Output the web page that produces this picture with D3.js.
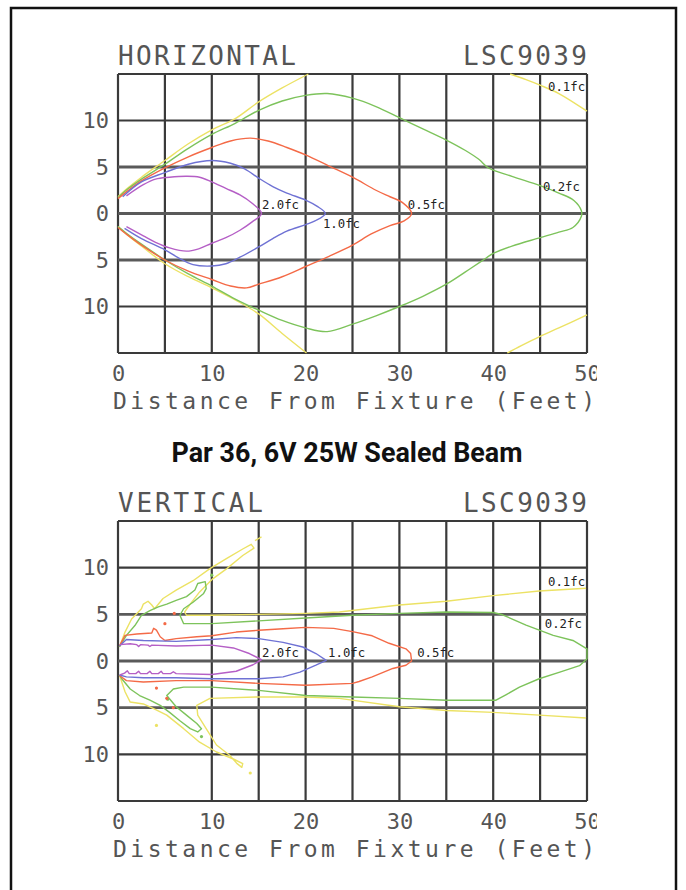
<!DOCTYPE html>
<html>
<head>
<meta charset="utf-8">
<script src="https://cdn.jsdelivr.net/npm/d3@7"></script>
<style>
  body { margin: 0; background: #fff; }
</style>
</head>
<body>
<svg id="chart" width="686" height="890"></svg>
<script>
// ---- data (all values in feet) ----
const xTicks = [0, 10, 20, 30, 40, 50];
const yTicks = [10, 5, 0, -5, -10];
const gridY = [-15, -10, -5, 0, 5, 10, 15];
const horGridX = [0, 5, 10, 15, 20, 25, 30, 35, 40, 45, 50];
const verGridX = [0, 10, 15, 20, 25, 30, 35, 40, 45, 50];

const levels = ['0.1fc', '0.2fc', '0.5fc', '1.0fc', '2.0fc'];

// HORIZONTAL isolux lines
const horYellowA = [[0,1.8],[1,2.7],[2.5,3.9],[5,5.7],[7.5,7.5],[10,9.0],[12.5,10.2],[15,12.0],[17.5,13.5],[20.3,15]];
const horYellowB = [[41.8,15],[43.5,14.4],[45,13.8],[47,12.9],[50,11.0]];
const horYellowC = [[41.5,-15],[43,-14.2],[45,-13.2],[47,-12.3],[50,-10.9]];
const horYellowD = [[0,-1.4],[1,-2.3],[2.5,-3.5],[5,-5.4],[7.5,-6.8],[10,-8.0],[12.5,-9.3],[15,-10.8],[17.5,-12.9],[20.1,-15]];
const horGreen = [[0,1.7],[1,2.6],[2.5,3.7],[5,5.3],[7.5,7.0],[10,8.5],[12.5,9.7],[15,11.1],[17.5,12.1],[20,12.7],[22.3,12.9],[25,12.4],[27.5,11.5],[30,10.3],[32.5,9.1],[35,7.9],[37,6.8],[38.5,5.8],[39.5,4.9],[42,4.0],[45,3.0],[47,2.2],[48.6,1.4],[49.4,0.3],[49.4,-0.3],[48.5,-1.5],[47,-2.0],[45,-2.6],[42,-3.5],[40,-4.3],[38.8,-5.1],[37,-6.3],[35,-7.6],[32.5,-8.9],[30,-10.0],[27.5,-11.0],[25,-11.9],[22.3,-12.7],[20,-12.3],[17.5,-11.5],[15,-10.4],[12.5,-9.2],[10,-7.8],[7.5,-6.5],[5,-5.0],[2.5,-3.3],[1,-2.2],[0,-1.4]];
const horRed = [[0,1.6],[1,2.4],[2.5,3.5],[5,4.9],[7.5,6.1],[10,7.1],[12,7.8],[14.1,8.1],[16,7.8],[18,7.1],[20,6.3],[22.5,5.1],[25,3.9],[27.5,2.5],[29,1.8],[30.3,1.2],[31.3,0],[30.5,-0.8],[29,-1.3],[27,-2.2],[25,-3.4],[22.5,-4.6],[20,-5.7],[17.5,-6.8],[15,-7.6],[13.7,-8.0],[12,-7.8],[10,-7.1],[7.5,-6.2],[5,-5.0],[2.5,-3.4],[1,-2.3],[0,-1.5]];
const horBlue = [[0.5,1.8],[2.5,3.4],[5,4.4],[7.5,5.3],[10,5.7],[12,5.4],[13.5,4.8],[15,3.8],[16.5,2.9],[18,2.2],[20,1.45],[21.2,0.8],[22.1,0],[21,-0.8],[20,-1.2],[18,-1.9],[16.5,-2.7],[15,-3.6],[13,-4.7],[11.5,-5.4],[10,-5.65],[8,-5.5],[6.5,-4.8],[5,-3.9],[2.5,-2.7],[0.7,-1.6]];
const horPurple = [[0.9,1.9],[2.7,3.1],[4,3.7],[5.5,3.9],[7.3,4.0],[8.7,3.9],[10,3.4],[11.5,2.7],[13,2.0],[14.3,1.1],[15.3,0],[14.3,-0.9],[13,-1.8],[11.5,-2.6],[10,-3.2],[8.6,-3.8],[7.3,-4.05],[5.5,-3.7],[4,-3.1],[2.7,-2.4],[0.9,-1.4]];
const horLabelText = ['2.0fc', '1.0fc', '0.5fc', '0.2fc', '0.1fc'];
const horLabelX = [15.35, 21.85, 30.9, 45.3, 45.85];
const horLabelY = [0.48, -1.56, 0.48, 2.4, 13.2];

// VERTICAL isolux lines
const verYellowA = [[0.15,1.5],[0.75,3.1],[1.45,4.5],[2.5,5.6],[2.7,6.1],[3.2,6.4],[3.6,6.0],[3.9,5.6],[4.8,6.7],[6.2,7.6],[8.0,8.6],[9.8,9.9],[11.6,11.0],[13.3,12.0],[14.2,12.5],[14.5,12.1],[13.3,11.3],[11.6,9.9],[10.1,8.8],[8.7,7.4],[7.7,6.1],[7.1,5.25],[7.3,4.9],[10,4.9],[15,5.0],[20,5.1],[23.6,5.25],[30,6.0],[35,6.4],[40,7.0],[44.9,7.5],[49.9,7.8]];
const verYellowB = [[14.6,12.9],[15.3,13.3]];
const verYellowC = [[0.15,-1.5],[0.75,-3.3],[1.3,-4.4],[2.7,-4.6],[3.8,-5.1],[5.2,-5.8],[7,-7.25],[8.7,-8.7],[10.5,-9.75],[12.3,-10.5],[13.3,-11.0],[13.2,-11.4],[12.7,-11.0],[11.9,-10.1],[10.5,-9.0],[9.4,-7.25],[8.5,-5.8],[8.4,-4.75],[9.8,-4.0],[15,-3.85],[20,-3.85],[23.6,-4.0],[30,-4.9],[35,-5.3],[40,-5.5],[44.9,-5.8],[49.9,-6.1]];
const verGreen = [[0.15,1.5],[0.9,2.75],[1.8,3.8],[2.5,4.9],[3.4,5.4],[4.3,5.8],[5.2,6.1],[6.2,6.5],[7.3,6.9],[8.2,7.6],[8.5,8.3],[9.3,8.5],[9.4,7.75],[9.1,7.2],[8.0,6.3],[7.0,5.6],[6.6,4.9],[7.0,4.0],[10,4.0],[15,4.3],[20,4.6],[25,4.9],[30,5.1],[35,5.25],[40,5.2],[41,4.95],[43.5,3.85],[46.4,2.75],[48.5,2.2],[50,1.3],[50,0.25],[49.2,-0.5],[47.1,-1.2],[44.9,-1.9],[42.8,-2.8],[41.4,-3.6],[40.3,-4.2],[37.8,-4.2],[35,-4.2],[30,-4.0],[25,-3.85],[20,-3.7],[15,-3.15],[10,-2.8],[7,-2.8],[5.9,-3.0],[5.2,-3.7],[6.2,-4.9],[7.3,-5.8],[8.4,-6.7],[8.9,-7.25],[8.5,-7.6],[7.7,-7.25],[6.6,-6.4],[5.5,-5.5],[4.5,-4.75],[3.4,-4.2],[2.3,-3.7],[1.3,-3.0],[0.4,-1.9],[0.15,-1.5]];
const verRed = [[0.15,1.6],[0.75,2.75],[2,2.9],[3.6,3.0],[3.8,3.5],[4.1,3.3],[4.5,2.6],[5,2.2],[6.2,2.4],[8.4,2.6],[10,2.7],[12.6,3.1],[15,3.3],[17.6,3.45],[20,3.6],[23,3.5],[25,3.15],[27.1,2.7],[28.9,1.9],[30.7,1.3],[31.2,0.8],[31.3,0],[30.7,-0.45],[29.3,-0.8],[27.1,-1.7],[25.7,-2.2],[25,-2.4],[20,-2.6],[15,-2.4],[10,-2.1],[6.2,-2.1],[2.7,-2.25],[0.9,-2.1],[0.15,-1.55]];
const verBlue = [[0.15,1.6],[0.9,2.3],[2.7,2.2],[6.2,2.1],[10,2.3],[12.6,2.5],[15,2.4],[17.6,2.0],[19.7,1.5],[21.1,0.8],[22.2,0.07],[21.1,-0.45],[19.4,-1.2],[17.6,-1.7],[15,-1.9],[10,-1.9],[6.2,-1.8],[2.7,-1.8],[0.9,-1.7],[0.15,-1.5]];
const verPurple = [[0.2,1.75],[1.3,1.85],[2.0,1.75],[2.2,1.55],[2.4,1.75],[3.2,1.7],[3.4,1.55],[3.6,1.7],[6.2,1.6],[10,1.7],[12.3,1.4],[14,0.8],[15.3,0.15],[14.4,-0.4],[12.6,-1.1],[10,-1.45],[6.2,-1.35],[5.9,-1.15],[5.6,-1.35],[4.8,-1.35],[4.6,-1.1],[4.3,-1.35],[3.6,-1.35],[3.4,-1.1],[3.1,-1.35],[2.4,-1.35],[2.2,-1.1],[1.9,-1.35],[1.2,-1.35],[1.0,-1.05],[0.7,-1.3],[0.2,-1.5]];
const verYellowSpecks = [[14.1,-12],[4.1,-6.9]];
const verGreenSpecks = [[8.9,-8.1],[10,9.2],[5.3,-4.1]];
const verRedSpecks = [[4.1,-2.9],[5.2,-4.0],[5.9,-5.0],[5.0,4.0],[6.0,5.1]];
const verLabelText = ['2.0fc', '1.0fc', '0.5fc', '0.2fc', '0.1fc'];
const verLabelX = [15.35, 22.4, 31.9, 45.5, 45.85];
const verLabelY = [0.43, 0.43, 0.43, 3.5, 8.0];

// ---- drawing ----
const color = d3.scaleOrdinal(levels, ['#ece264', '#7dc35b', '#f46a47', '#6f72d4', '#b55fc6']);
const plotFont = "'DejaVu Sans Mono', 'Liberation Mono', monospace";
const svg = d3.select('#chart');

svg.append('rect')
    .attr('x', 11).attr('y', 8)
    .attr('width', 665).attr('height', 900)
    .attr('fill', 'none')
    .attr('stroke', '#111')
    .attr('stroke-width', 2.5);

svg.append('defs').append('clipPath').attr('id', 'tickClip')
    .append('rect').attr('x', 0).attr('y', 0).attr('width', 597).attr('height', 890);

const x = d3.scaleLinear().domain([0, 50]).range([118, 587]);

function drawPanel(top, bottom, title, titleWidth, gridX, curveType, curves, specks, labelText, labelX, labelY) {
    const y = d3.scaleLinear().domain([-15, 15]).range([bottom, top]);
    const g = svg.append('g');

    // grid
    g.selectAll('.vgrid').data(gridX).enter().append('line')
        .attr('x1', d => x(d)).attr('x2', d => x(d))
        .attr('y1', y(-15)).attr('y2', y(15))
        .attr('stroke', '#3a3a3a').attr('stroke-width', 2.2);
    g.selectAll('.hgrid').data(gridY).enter().append('line')
        .attr('x1', x(0)).attr('x2', x(50))
        .attr('y1', d => y(d)).attr('y2', d => y(d))
        .attr('stroke', d => (d === 0 || Math.abs(d) === 5) ? '#5a5a5a' : '#3a3a3a')
        .attr('stroke-width', d => (d === 0 || Math.abs(d) === 5) ? 2.8 : 2.2);

    // contour lines
    const line = d3.line()
        .x(d => x(d[0]))
        .y(d => y(d[1]))
        .curve(curveType);
    curves.forEach(function (c) {
        g.append('path')
            .datum(c.pts)
            .attr('fill', 'none')
            .attr('stroke', color(c.level))
            .attr('stroke-width', 1.4)
            .attr('stroke-linejoin', 'round')
            .attr('d', line);
    });
    specks.forEach(function (s) {
        g.selectAll(null).data(s.pts).enter().append('circle')
            .attr('cx', d => x(d[0])).attr('cy', d => y(d[1]))
            .attr('r', 1.6)
            .attr('fill', color(s.level));
    });

    // contour labels
    labelText.forEach(function (t, i) {
        g.append('text')
            .attr('x', x(labelX[i])).attr('y', y(labelY[i]))
            .attr('font-family', plotFont)
            .attr('font-size', 12)
            .attr('fill', '#222')
            .attr('textLength', 37)
            .attr('lengthAdjust', 'spacingAndGlyphs')
            .text(t);
    });

    // axes
    const xAxis = g.append('g')
        .attr('transform', 'translate(0,' + bottom + ')')
        .attr('clip-path', 'url(#tickClip)')
        .call(d3.axisBottom(x).tickValues(xTicks).tickSize(0).tickPadding(12));
    const yAxis = g.append('g')
        .attr('transform', 'translate(' + x(0) + ',0)')
        .call(d3.axisLeft(y).tickValues(yTicks).tickSize(0).tickPadding(9).tickFormat(d => Math.abs(d)));
    [xAxis, yAxis].forEach(function (a) {
        a.select('.domain').remove();
        a.selectAll('text')
            .attr('font-family', plotFont)
            .attr('font-size', 22)
            .attr('fill', '#555');
    });

    // titles
    g.append('text')
        .attr('x', x(0)).attr('y', top - 9)
        .attr('font-family', plotFont).attr('font-size', 26).attr('fill', '#555')
        .attr('textLength', titleWidth)
        .attr('lengthAdjust', 'spacing')
        .text(title);
    g.append('text')
        .attr('x', 463).attr('y', top - 9)
        .attr('font-family', plotFont).attr('font-size', 26).attr('fill', '#555')
        .attr('textLength', 124)
        .attr('lengthAdjust', 'spacing')
        .text('LSC9039');
    g.append('text')
        .attr('x', 113).attr('y', bottom + 56)
        .attr('font-family', plotFont).attr('font-size', 23).attr('fill', '#555')
        .attr('textLength', 482)
        .attr('lengthAdjust', 'spacing')
        .text('Distance From Fixture (Feet)');
}

drawPanel(74, 353, 'HORIZONTAL', 178, horGridX, d3.curveCatmullRom.alpha(0.5), [
    { level: '0.1fc', pts: horYellowA },
    { level: '0.1fc', pts: horYellowB },
    { level: '0.1fc', pts: horYellowC },
    { level: '0.1fc', pts: horYellowD },
    { level: '0.2fc', pts: horGreen },
    { level: '0.5fc', pts: horRed },
    { level: '1.0fc', pts: horBlue },
    { level: '2.0fc', pts: horPurple }
], [], horLabelText, horLabelX, horLabelY);

drawPanel(521, 801, 'VERTICAL', 145, verGridX, d3.curveLinear, [
    { level: '0.1fc', pts: verYellowA },
    { level: '0.1fc', pts: verYellowB },
    { level: '0.1fc', pts: verYellowC },
    { level: '0.2fc', pts: verGreen },
    { level: '0.5fc', pts: verRed },
    { level: '1.0fc', pts: verBlue },
    { level: '2.0fc', pts: verPurple }
], [
    { level: '0.1fc', pts: verYellowSpecks },
    { level: '0.2fc', pts: verGreenSpecks },
    { level: '0.5fc', pts: verRedSpecks }
], verLabelText, verLabelX, verLabelY);

// middle caption
svg.append('text')
    .attr('x', 347).attr('y', 462)
    .attr('text-anchor', 'middle')
    .attr('font-family', "'Liberation Sans Narrow', 'Roboto', sans-serif")
    .attr('font-weight', 'bold')
    .attr('font-size', 27)
    .attr('fill', '#111')
    .attr('textLength', 351)
    .attr('lengthAdjust', 'spacingAndGlyphs')
    .text('Par 36, 6V 25W Sealed Beam');
</script>
</body>
</html>
